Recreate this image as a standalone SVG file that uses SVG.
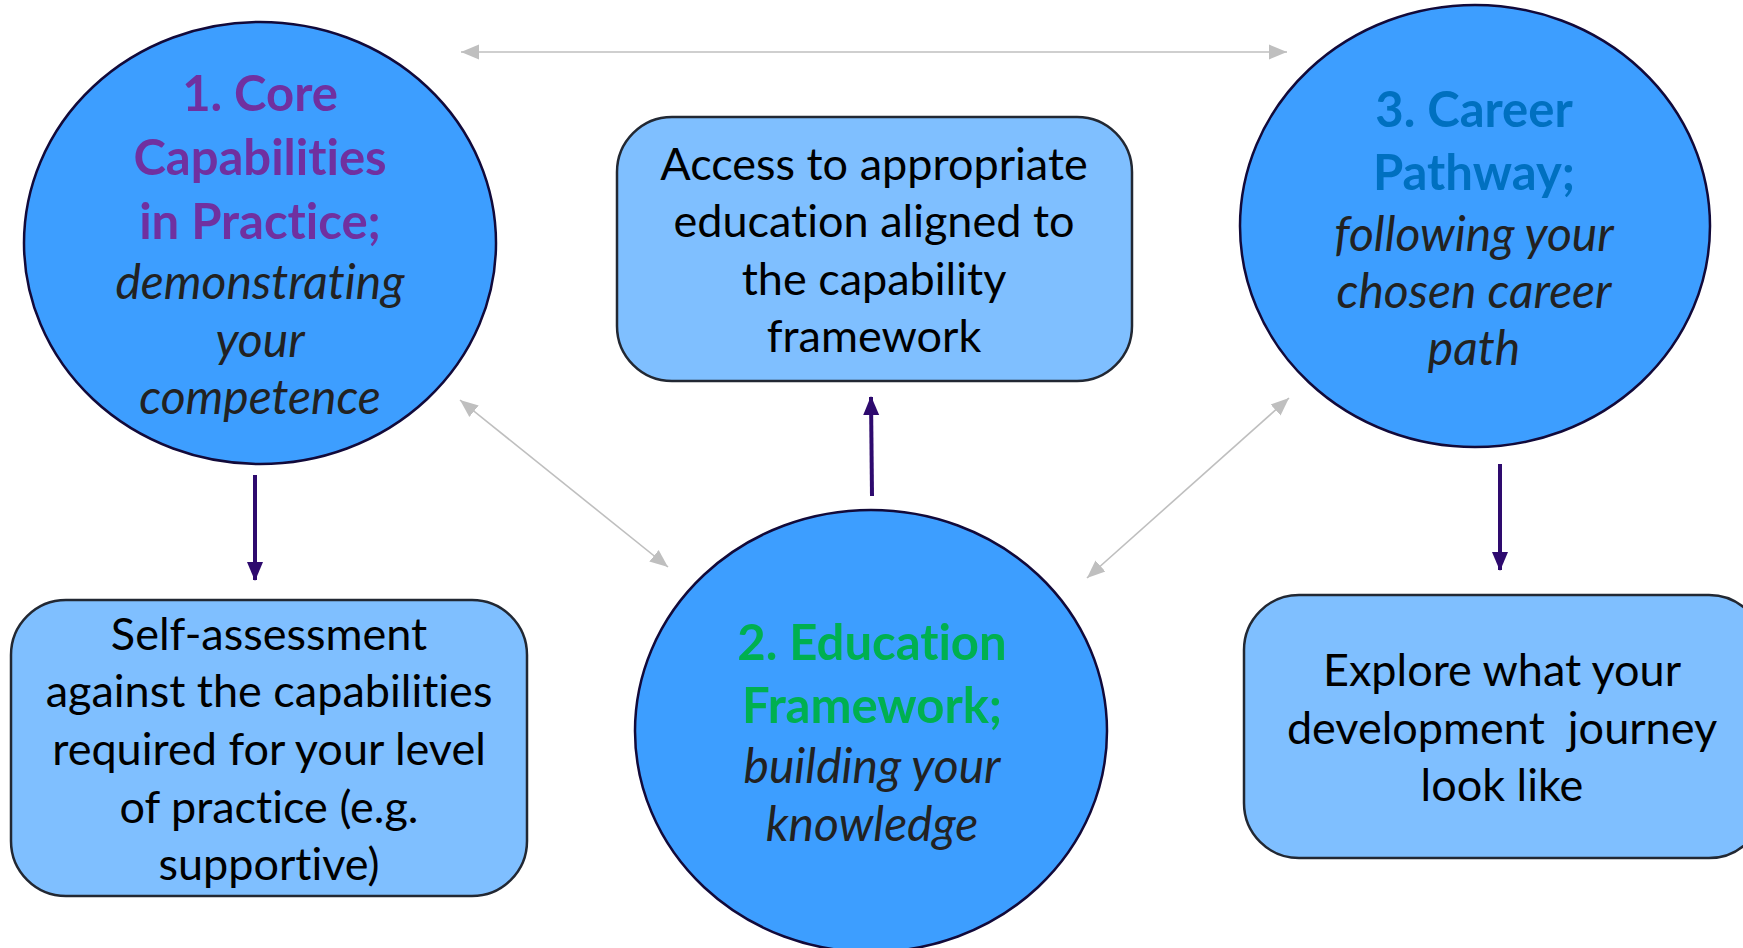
<svg xmlns="http://www.w3.org/2000/svg" width="1743" height="948" viewBox="0 0 1743 948">
<style>
.circ{fill:#3D9EFF;stroke:#120A3A;stroke-width:2.5}
.box{fill:#7FBFFF;stroke:#222833;stroke-width:2.5}
text{font-family:Lato,"Open Sans","Liberation Sans",sans-serif;text-anchor:middle;font-variant-ligatures:none;font-feature-settings:"liga" 0,"clig" 0,"dlig" 0}
.b{font-weight:bold;font-size:49px}
.i{font-style:italic;font-size:48px;fill:#222222}
.t{font-size:45px;fill:#000000}
.p{fill:#7030A0}.g{fill:#00B050}.bl{fill:#0070C0}
.gray{stroke:#BFBFBF;stroke-width:1.6;fill:none}
.pur{stroke:#2E0A6E;stroke-width:4;fill:none}
</style>
<defs>
<marker id="ga" markerUnits="userSpaceOnUse" markerWidth="20" markerHeight="18" refX="18" refY="9" orient="auto-start-reverse"><path d="M0,1.5 L18,9 L0,16.5 Z" fill="#BFBFBF"/></marker>
<marker id="pa" markerUnits="userSpaceOnUse" markerWidth="20" markerHeight="20" refX="18" refY="10" orient="auto"><path d="M0,2 L19,10 L0,18 Z" fill="#2E0A6E"/></marker>
</defs>
<rect width="1743" height="948" fill="#FFFFFF"/>
<g id="connectors">
<line class="gray" x1="461" y1="52" x2="1287" y2="52" marker-start="url(#ga)" marker-end="url(#ga)"/>
<line class="gray" x1="460" y1="400" x2="668" y2="567" marker-start="url(#ga)" marker-end="url(#ga)"/>
<line class="gray" x1="1289" y1="398" x2="1087" y2="578" marker-start="url(#ga)" marker-end="url(#ga)"/>
<line class="pur" x1="255" y1="475" x2="255" y2="580" marker-end="url(#pa)"/>
<line class="pur" x1="872" y1="496" x2="871" y2="397" marker-end="url(#pa)"/>
<line class="pur" x1="1500" y1="464" x2="1500" y2="570" marker-end="url(#pa)"/>
</g>
<g id="node-core">
<ellipse class="circ" cx="260" cy="243" rx="236" ry="221"/>
<text class="b p" x="260" y="111">1. Core</text>
<text class="b p" x="260" y="175">Capabilities</text>
<text class="b p" x="260" y="239">in Practice;</text>
<text class="i" x="260" y="299">demonstrating</text>
<text class="i" x="260" y="357">your</text>
<text class="i" x="260" y="414">competence</text>
</g>
<g id="node-career">
<ellipse class="circ" cx="1475" cy="226" rx="235" ry="221"/>
<text class="b bl" x="1474" y="127">3. Career</text>
<text class="b bl" x="1474" y="190">Pathway;</text>
<text class="i" x="1474" y="251">following your</text>
<text class="i" x="1474" y="308">chosen career</text>
<text class="i" x="1474" y="365">path</text>
</g>
<g id="node-education">
<ellipse class="circ" cx="871" cy="731" rx="236" ry="221"/>
<text class="b g" x="872" y="660">2. Education</text>
<text class="b g" x="872" y="723">Framework;</text>
<text class="i" x="872" y="783">building your</text>
<text class="i" x="872" y="841">knowledge</text>
</g>
<g id="node-access">
<rect class="box" x="617" y="117" width="515" height="264" rx="55"/>
<text class="t" x="874" y="180">Access to appropriate</text>
<text class="t" x="874" y="237">education aligned to</text>
<text class="t" x="874" y="295">the capability</text>
<text class="t" x="874" y="352">framework</text>
</g>
<g id="node-self">
<rect class="box" x="11" y="600" width="516" height="296" rx="55"/>
<text class="t" x="269" y="650">Self-assessment</text>
<text class="t" x="269" y="707">against the capabilities</text>
<text class="t" x="269" y="765">required for your level</text>
<text class="t" x="269" y="823">of practice (e.g.</text>
<text class="t" x="269" y="880">supportive)</text>
</g>
<g id="node-explore">
<rect class="box" x="1244" y="595" width="520" height="263" rx="55"/>
<text class="t" x="1502" y="686">Explore what your</text>
<text class="t" x="1502" y="744" xml:space="preserve">development  journey</text>
<text class="t" x="1502" y="801">look like</text>
</g>
</svg>
